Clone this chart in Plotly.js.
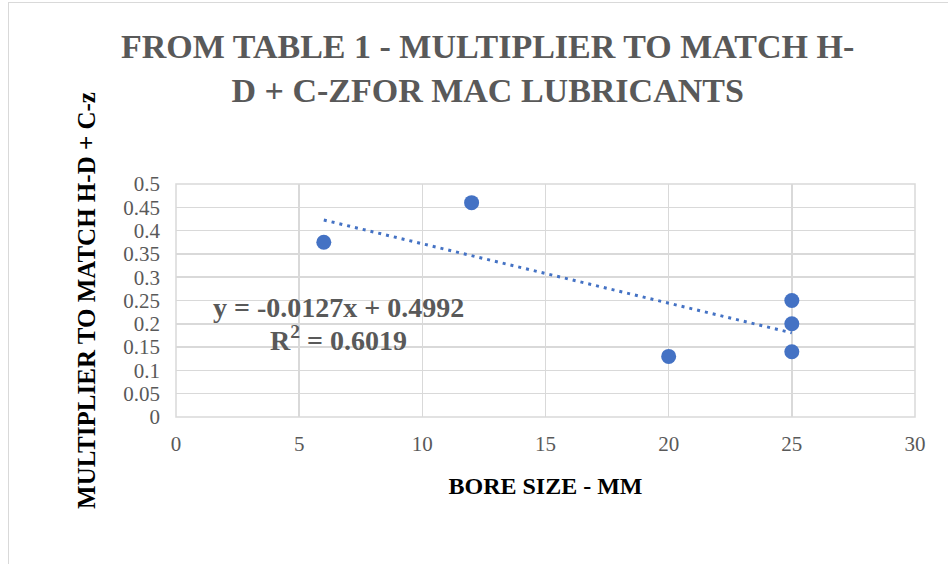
<!DOCTYPE html>
<html><head><meta charset="utf-8">
<script src="https://cdn.plot.ly/plotly-3.0.1.min.js"></script>
<style>
html,body{margin:0;padding:0;background:#fff;overflow:hidden;}
#frame{position:absolute;left:8px;top:2px;width:1000px;height:700px;border:1px solid #d9d9d9;}
#chart{position:absolute;left:0;top:0;width:948px;height:564px;}
</style></head>
<body>
<div id="frame"></div>
<div id="chart"></div>
<script>
const boreSize = [6, 12, 20, 25, 25, 25];
const multiplier = [0.375, 0.46, 0.13, 0.25, 0.2, 0.14];
const xTicks = [0, 5, 10, 15, 20, 25, 30];
const yTicks = [0, 0.05, 0.1, 0.15, 0.2, 0.25, 0.3, 0.35, 0.4, 0.45, 0.5];
const titleText = "FROM TABLE 1 - MULTIPLIER TO MATCH H-<br>D + C-ZFOR MAC LUBRICANTS";
const xTitle = "BORE SIZE - MM";
const yTitle = "MULTIPLIER TO MATCH H-D + C-z";
const eqLine = "y = -0.0127x + 0.4992";
const r2Line = "R<sup>2</sup> = 0.6019";

// least-squares trendline from data
const n = boreSize.length;
const mx = boreSize.reduce((a,b)=>a+b,0)/n;
const my = multiplier.reduce((a,b)=>a+b,0)/n;
let sxy=0, sxx=0;
for(let i=0;i<n;i++){sxy+=(boreSize[i]-mx)*(multiplier[i]-my);sxx+=(boreSize[i]-mx)**2;}
const slope = sxy/sxx, icpt = my - slope*mx;
const xmin = Math.min(...boreSize), xmax = Math.max(...boreSize);
const trendX = [xmin, xmax];
const trendY = trendX.map(x=>icpt+slope*x);

const serif = "'Liberation Serif', 'DejaVu Serif', serif";
const data = [
  {x: trendX, y: trendY, mode:'lines', type:'scatter',
   line:{color:'#4472C4', width:3, dash:'3px,5px'}, hoverinfo:'skip'},
  {x: boreSize, y: multiplier, mode:'markers', type:'scatter',
   marker:{color:'#4472C4', size:15}}
];
const eqFont = {family:serif, size:28, color:'#595959', weight:'bold'};
const layout = {
  width:948, height:564,
  paper_bgcolor:'rgba(0,0,0,0)', plot_bgcolor:'#fff',
  showlegend:false,
  margin:{l:176, r:33, t:184, b:147},
  xaxis:{range:[0,30], tickvals:xTicks, showgrid:true, gridcolor:'#d9d9d9', gridwidth:1.5,
    zeroline:false, showline:false, ticks:'', ticklabelstandoff:12,
    tickfont:{family:serif, size:21, color:'#595959'},
    title:{text:xTitle, standoff:22, font:{family:serif, size:24, color:'#000', weight:'bold'}}},
  yaxis:{range:[0,0.5], tickvals:yTicks, ticktext:yTicks.map(String), showgrid:true, gridcolor:'#d9d9d9', gridwidth:1.5,
    zeroline:false, showline:false, ticks:'', ticklabelstandoff:15,
    tickfont:{family:serif, size:21, color:'#595959'},
    title:{text:yTitle, standoff:20, font:{family:serif, size:25, color:'#000', weight:'bold'}}},
  shapes:[
    {type:'rect', xref:'paper', yref:'paper', x0:0, x1:1, y0:0, y1:1, line:{color:'#d9d9d9', width:1.5}, layer:'below'}
  ],
  annotations:[
    {text:titleText, xref:'paper', yref:'paper', x:0.421, y:1.4936, xanchor:'center', yanchor:'middle',
     showarrow:false, align:'center',
     font:{family:serif, size:34, color:'#595959', weight:'bold'}},
    {text:eqLine, xref:'x', yref:'y', x:6.6, y:0.236, showarrow:false, align:'center', yanchor:'middle', font:eqFont},
    {text:r2Line, xref:'x', yref:'y', x:6.6, y:0.1695, showarrow:false, align:'center', yanchor:'middle', font:eqFont}
  ]
};
Plotly.newPlot('chart', data, layout, {displayModeBar:false, staticPlot:true});
</script>
</body></html>
